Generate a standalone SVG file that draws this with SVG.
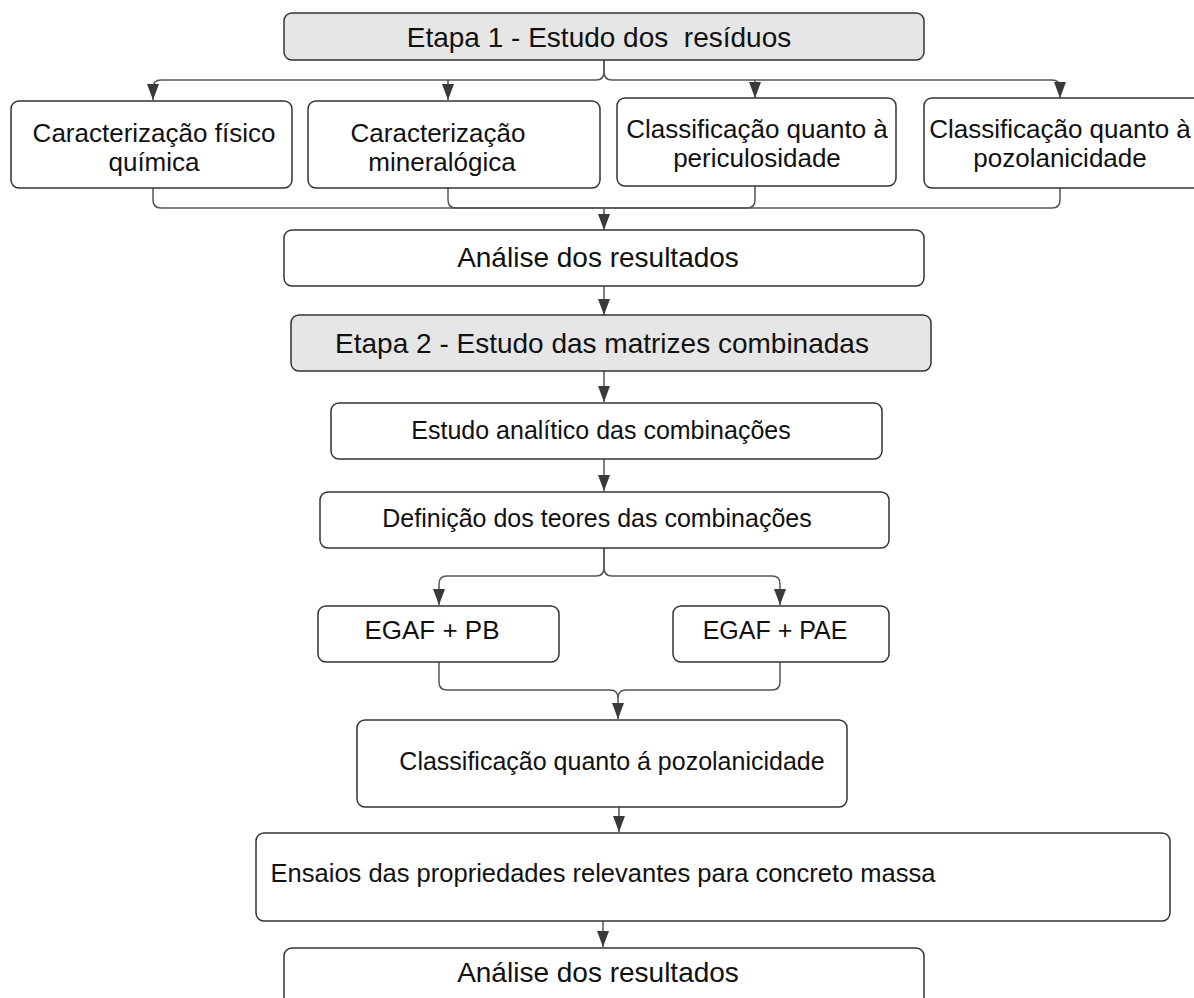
<svg xmlns="http://www.w3.org/2000/svg" width="1194" height="998" viewBox="0 0 1194 998">
<defs>
<marker id="ah" markerWidth="16" markerHeight="12" refX="16" refY="6" orient="auto" markerUnits="userSpaceOnUse"><path d="M0,0 L16,6 L0,12 z" fill="#3a3a3a"/></marker>
<style>
.box{fill:#fff;stroke:#333;stroke-width:1.5}
.gray{fill:#e6e6e6;stroke:#333;stroke-width:1.5}
.t{font-family:"Liberation Sans",Arial,sans-serif;fill:#111;text-anchor:middle}
.c{fill:none;stroke:#555;stroke-width:1.5}
.a{marker-end:url(#ah)}
</style>
</defs>
<rect width="1194" height="998" fill="#fff"/>
<g id="connectors">
<path class="c a" d="M604,60 V72 Q604,80 596,80 H161 Q153,80 153,88 V100"/>
<path class="c a" d="M604,60 V72 Q604,80 612,80 H1052 Q1060,80 1060,88 V98"/>
<path class="c a" d="M448,80 V100"/>
<path class="c a" d="M755,80 V98"/>
<path class="c" d="M153,188 V200 Q153,208 161,208 H604"/>
<path class="c" d="M448,188 V200 Q448,208 456,208 H604"/>
<path class="c" d="M755,186 V200 Q755,208 747,208 H604"/>
<path class="c" d="M1060,188 V200 Q1060,208 1052,208 H604"/>
<path class="c a" d="M604,208 V230"/>
<path class="c a" d="M604,286 V315"/>
<path class="c a" d="M604,371 V402"/>
<path class="c a" d="M604,459 V491"/>
<path class="c a" d="M604,548 V568 Q604,576 596,576 H447 Q439,576 439,584 V605"/>
<path class="c a" d="M604,548 V568 Q604,576 612,576 H772 Q780,576 780,584 V605"/>
<path class="c" d="M439,662 V682 Q439,690 447,690 H610 Q618,690 618,698"/>
<path class="c" d="M780,662 V682 Q780,690 772,690 H626 Q618,690 618,698"/>
<path class="c a" d="M618,698 V719"/>
<path class="c a" d="M619,807 V832"/>
<path class="c a" d="M603,921 V947"/>
</g>
<g id="etapa1"><rect class="gray" x="284" y="13" width="640" height="47" rx="8"/><text class="t" x="599" y="47" font-size="28" xml:space="preserve">Etapa 1 - Estudo dos  resíduos</text></g>
<g id="fisico"><rect class="box" x="11" y="101" width="281" height="87" rx="8"/><text class="t" x="154" y="142" font-size="26">Caracterização físico</text><text class="t" x="154" y="171" font-size="26">química</text></g>
<g id="mineral"><rect class="box" x="308" y="101" width="292" height="87" rx="8"/><text class="t" x="438" y="142" font-size="26">Caracterização</text><text class="t" x="442" y="171" font-size="26">mineralógica</text></g>
<g id="periculosidade"><rect class="box" x="617" y="98" width="279" height="88" rx="8"/><text class="t" x="757" y="138" font-size="26">Classificação quanto à</text><text class="t" x="757" y="167" font-size="26">periculosidade</text></g>
<g id="pozolanicidade1"><rect class="box" x="924" y="98" width="280" height="90" rx="8"/><text class="t" x="1060" y="138" font-size="26">Classificação quanto à</text><text class="t" x="1060" y="167" font-size="26">pozolanicidade</text></g>
<g id="analise1"><rect class="box" x="284" y="230" width="640" height="56" rx="8"/><text class="t" x="598" y="267" font-size="28">Análise dos resultados</text></g>
<g id="etapa2"><rect class="gray" x="291" y="315" width="640" height="56" rx="8"/><text class="t" x="602" y="353" font-size="28">Etapa 2 - Estudo das matrizes combinadas</text></g>
<g id="estudo"><rect class="box" x="331" y="403" width="551" height="56" rx="8"/><text class="t" x="601" y="439" font-size="25">Estudo analítico das combinações</text></g>
<g id="definicao"><rect class="box" x="320" y="492" width="569" height="56" rx="8"/><text class="t" x="597" y="527" font-size="25">Definição dos teores das combinações</text></g>
<g id="pb"><rect class="box" x="318" y="606" width="241" height="56" rx="8"/><text class="t" x="432" y="639" font-size="26">EGAF + PB</text></g>
<g id="pae"><rect class="box" x="673" y="606" width="216" height="56" rx="8"/><text class="t" x="775" y="639" font-size="25">EGAF + PAE</text></g>
<g id="pozolanicidade2"><rect class="box" x="357" y="720" width="490" height="87" rx="8"/><text class="t" x="612" y="770" font-size="25">Classificação quanto á pozolanicidade</text></g>
<g id="ensaios"><rect class="box" x="256" y="833" width="914" height="88" rx="8"/><text class="t" x="603" y="882" font-size="25.5">Ensaios das propriedades relevantes para concreto massa</text></g>
<g id="analise2"><rect class="box" x="284" y="948" width="640" height="70" rx="8"/><text class="t" x="598" y="982" font-size="28">Análise dos resultados</text></g>
</svg>
